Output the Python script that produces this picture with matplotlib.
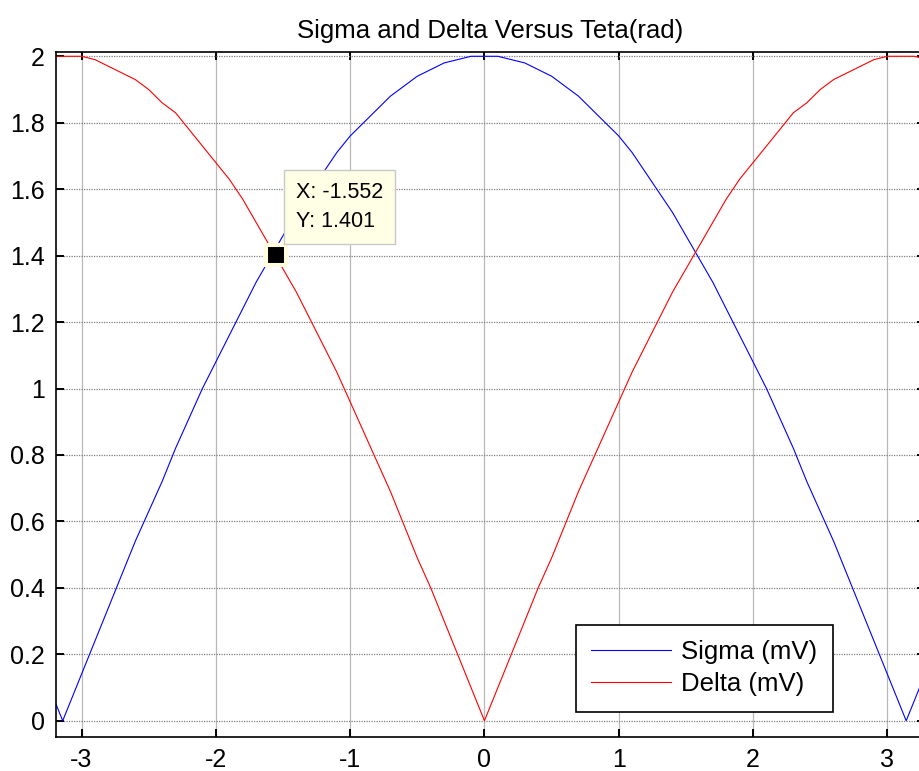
import matplotlib
matplotlib.use("Agg")
import matplotlib.pyplot as plt

plt.rcParams['font.family'] = ['Liberation Sans', 'DejaVu Sans']
plt.rcParams['axes.unicode_minus'] = False

# values
teta = [-3.2, -3.14, -3.1, -3.0, -2.9, -2.8, -2.7, -2.6, -2.5, -2.4, -2.3, -2.2,
        -2.1, -2.0, -1.9, -1.8, -1.7, -1.6, -1.5, -1.4, -1.3, -1.2, -1.1, -1.0,
        -0.9, -0.8, -0.7, -0.6, -0.5, -0.4, -0.3, -0.2, -0.1, 0.0,
        0.1, 0.2, 0.3, 0.4, 0.5, 0.6, 0.7, 0.8, 0.9, 1.0, 1.1, 1.2,
        1.3, 1.4, 1.5, 1.6, 1.7, 1.8, 1.9, 2.0, 2.1, 2.2, 2.3, 2.4,
        2.5, 2.6, 2.7, 2.8, 2.9, 3.0, 3.1, 3.14, 3.2, 3.3]
sigma = [0.06, 0.00, 0.04, 0.14, 0.24, 0.34, 0.44, 0.54, 0.63, 0.72, 0.82, 0.91,
         1.00, 1.08, 1.16, 1.24, 1.32, 1.39, 1.46, 1.53, 1.59, 1.65, 1.71, 1.76,
         1.80, 1.84, 1.88, 1.91, 1.94, 1.96, 1.98, 1.99, 2.00, 2.00,
         2.00, 1.99, 1.98, 1.96, 1.94, 1.91, 1.88, 1.84, 1.80, 1.76, 1.71, 1.65,
         1.59, 1.53, 1.46, 1.39, 1.32, 1.24, 1.16, 1.08, 1.00, 0.91, 0.82, 0.72,
         0.63, 0.54, 0.44, 0.34, 0.24, 0.14, 0.04, 0.00, 0.06, 0.16]
delta = [2.00, 2.00, 2.00, 2.00, 1.99, 1.97, 1.95, 1.93, 1.90, 1.86, 1.83, 1.78,
         1.73, 1.68, 1.63, 1.57, 1.50, 1.43, 1.36, 1.29, 1.21, 1.13, 1.05, 0.96,
         0.87, 0.78, 0.69, 0.59, 0.49, 0.40, 0.30, 0.20, 0.10, 0.00,
         0.10, 0.20, 0.30, 0.40, 0.49, 0.59, 0.69, 0.78, 0.87, 0.96, 1.05, 1.13,
         1.21, 1.29, 1.36, 1.43, 1.50, 1.57, 1.63, 1.68, 1.73, 1.78, 1.83, 1.86,
         1.90, 1.93, 1.95, 1.97, 1.99, 2.00, 2.00, 2.00, 2.00, 1.99]

x_ticks = [-3, -2, -1, 0, 1, 2, 3]
y_ticks = [0, 0.2, 0.4, 0.6, 0.8, 1, 1.2, 1.4, 1.6, 1.8, 2]
y_labels = ['0', '0.2', '0.4', '0.6', '0.8', '1', '1.2', '1.4', '1.6', '1.8', '2']

tip_x = -1.552
tip_y = 1.401

W, H = 919, 771
fig = plt.figure(figsize=(W / 100, H / 100), dpi=100)
ax = fig.add_axes([56 / W, 1 - 736.7 / H, (925 - 56) / W, (736.7 - 52.3) / H])

ax.plot(teta, sigma, color='#0000ff', lw=0.8, label='Sigma (mV)')
ax.plot(teta, delta, color='#ff0000', lw=0.8, label='Delta (mV)')

ax.set_xlim(-3.19, 3.28)
ax.set_ylim(-0.048, 2.012)
ax.set_xticks(x_ticks)
ax.set_yticks(y_ticks)
ax.set_yticklabels(y_labels)
ax.tick_params(direction='in', length=6, width=1.4, labelsize=18,
               top=True, right=True, pad=8, colors='black')
ax.xaxis.grid(True, color='#b8b8b8', ls='-', lw=0.9)
ax.yaxis.grid(True, color='#808080', ls=(0, (1, 1)), lw=0.9)
ax.set_axisbelow(True)
for s in ax.spines.values():
    s.set_linewidth(1.2)

ax.set_title('Sigma and Delta Versus Teta(rad)', fontsize=18.5, pad=10)

# data tip
ax.plot([tip_x], [tip_y], marker='s', markersize=13.7, markerfacecolor='black',
        markeredgecolor='#ffffe0', markeredgewidth=2.9, zorder=5)
ax.annotate('X: %.3f\nY: %.3f' % (tip_x, tip_y), xy=(tip_x, tip_y),
            xytext=(14.3, 53), textcoords='offset points', fontsize=15.5,
            va='top', ha='left', linespacing=1.55, zorder=6,
            bbox=dict(boxstyle='square,pad=0.55', fc='#ffffe5', ec='#c8c8c8', lw=1))

leg = ax.legend(loc='upper left', bbox_to_anchor=(576 / W, 1 - 625 / H),
                bbox_transform=fig.transFigure, fontsize=18.5, frameon=True,
                fancybox=False, edgecolor='black', framealpha=1,
                borderpad=0.6, handlelength=3.1, handletextpad=0.4,
                labelspacing=0.3, borderaxespad=0)
leg.get_frame().set_linewidth(1.2)

fig.savefig('out.png', dpi=100)
